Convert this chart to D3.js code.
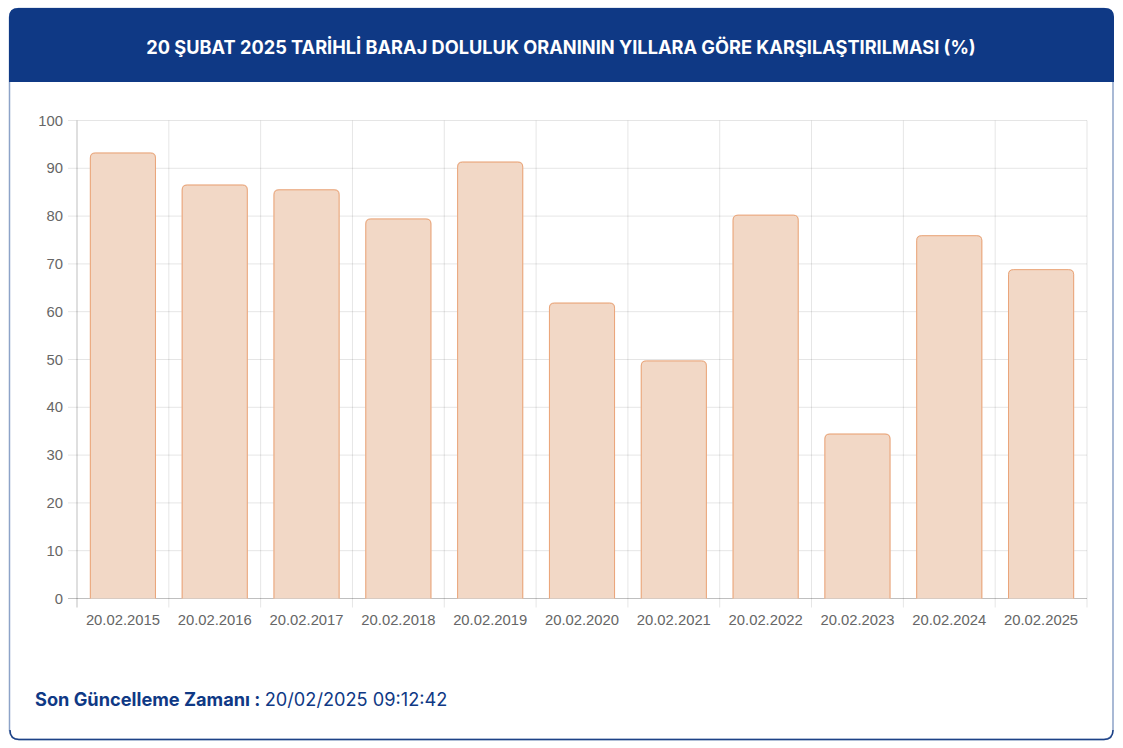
<!DOCTYPE html>
<html>
<head>
<meta charset="utf-8">
<script src="https://cdn.jsdelivr.net/npm/d3@7"></script>
<style>
  body { margin: 0; background: #fff; }
  svg text { font-family: "Liberation Sans", Arial, sans-serif; }
</style>
</head>
<body>
<svg id="chart" width="1123" height="748"></svg>
<script>
// Veriler: 20 Şubat tarihli baraj doluluk oranları (%)
const tarihler = ['20.02.2015', '20.02.2016', '20.02.2017', '20.02.2018', '20.02.2019',
  '20.02.2020', '20.02.2021', '20.02.2022', '20.02.2023', '20.02.2024', '20.02.2025'];
const oranlar = [93.3, 86.6, 85.6, 79.5, 91.4, 61.9, 49.8, 80.3, 34.5, 76.0, 68.9];
const yTikler = [0, 10, 20, 30, 40, 50, 60, 70, 80, 90, 100];

const baslik = '20 ŞUBAT 2025 TARİHLİ BARAJ DOLULUK ORANININ YILLARA GÖRE KARŞILAŞTIRILMASI (%)';
const guncelEtiket = 'Son Güncelleme Zamanı : ';
const guncelZaman = '20/02/2025 09:12:42';

const svg = d3.select('#chart');
const lacivert = '#0f3985';

// Kart: dış çerçeve
svg.append('rect')
  .attr('x', 9.5).attr('y', 8.5)
  .attr('width', 1103.5).attr('height', 731)
  .attr('rx', 9)
  .attr('fill', '#fff')
  .attr('stroke', '#8da3c8')
  .attr('stroke-width', 1.5);

// Alt kenar koyu mavi
svg.append('path')
  .attr('d', 'M 10 730 Q 10 739.5 19 739.5 L 1104 739.5 Q 1113 739.5 1113 730')
  .attr('fill', 'none')
  .attr('stroke', '#1d4287')
  .attr('stroke-width', 1.5);

// Başlık bandı
svg.append('path')
  .attr('d', 'M 9 82 L 9 17 Q 9 8 18 8 L 1105 8 Q 1114 8 1114 17 L 1114 82 Z')
  .attr('fill', lacivert);

svg.append('text')
  .attr('x', 561).attr('y', 53.5)
  .attr('text-anchor', 'middle')
  .attr('fill', '#fff')
  .style('font-family', 'Inter, "Noto Sans", sans-serif')
  .style('font-weight', 700)
  .style('font-size', '18.2px')
  .text(baslik);

// Grafik alanı
const margin = { left: 77, right: 1087, top: 120.5, bottom: 598.5 };

const x = d3.scaleBand()
  .domain(tarihler)
  .range([margin.left, margin.right]);

const y = d3.scaleLinear()
  .domain([0, 100])
  .range([margin.bottom, margin.top]);

const grid = svg.append('g');

// Yatay ızgara çizgileri (tik işaretleriyle birlikte)
grid.selectAll('.hgrid')
  .data(yTikler)
  .enter()
  .append('line')
  .attr('x1', margin.left - 9)
  .attr('x2', margin.right)
  .attr('y1', d => y(d))
  .attr('y2', d => y(d))
  .attr('stroke', d => d === 0 ? 'rgba(0,0,0,0.25)' : 'rgba(0,0,0,0.1)')
  .attr('stroke-width', 1);

// Dikey ızgara çizgileri (kategori sınırları)
const sinirlar = tarihler.map(d => x(d)).concat([margin.right]);
grid.selectAll('.vgrid')
  .data(sinirlar)
  .enter()
  .append('line')
  .attr('x1', d => d)
  .attr('x2', d => d)
  .attr('y1', margin.top)
  .attr('y2', margin.bottom + 9)
  .attr('stroke', (d, i) => i === 0 ? 'rgba(0,0,0,0.25)' : 'rgba(0,0,0,0.1)')
  .attr('stroke-width', 1);

// Y ekseni etiketleri
svg.append('g').selectAll('text')
  .data(yTikler)
  .enter()
  .append('text')
  .attr('x', 63)
  .attr('y', d => y(d) + 5)
  .attr('text-anchor', 'end')
  .attr('fill', '#666')
  .style('font-size', '14.8px')
  .text(d => d);

// X ekseni etiketleri
svg.append('g').selectAll('text')
  .data(tarihler)
  .enter()
  .append('text')
  .attr('x', d => x(d) + x.bandwidth() / 2)
  .attr('y', 625)
  .attr('text-anchor', 'middle')
  .attr('fill', '#666')
  .style('font-size', '14.8px')
  .text(d => d);

// Çubuklar: üst köşeleri yuvarlatılmış
const barW = x.bandwidth() * 0.72;
const r = 5;

function ustYuvarlak(x0, y0, w, h, kapali) {
  const rr = Math.min(r, h / 2);
  let p = `M ${x0} ${y0 + h} L ${x0} ${y0 + rr} Q ${x0} ${y0} ${x0 + rr} ${y0}`
    + ` L ${x0 + w - rr} ${y0} Q ${x0 + w} ${y0} ${x0 + w} ${y0 + rr} L ${x0 + w} ${y0 + h}`;
  if (kapali) p += ' Z';
  return p;
}

const cubuk = svg.append('g').selectAll('g')
  .data(oranlar)
  .enter()
  .append('g');

cubuk.append('path')
  .attr('d', (d, i) => {
    const x0 = x(tarihler[i]) + (x.bandwidth() - barW) / 2;
    return ustYuvarlak(x0, y(d), barW, y(0) - y(d), true);
  })
  .attr('fill', '#f2d8c6');

cubuk.append('path')
  .attr('d', (d, i) => {
    const x0 = x(tarihler[i]) + (x.bandwidth() - barW) / 2 + 0.5;
    return ustYuvarlak(x0, y(d) + 0.5, barW - 1, y(0) - y(d) - 0.5, false);
  })
  .attr('fill', 'none')
  .attr('stroke', '#eaa478')
  .attr('stroke-width', 1);

// Son güncelleme satırı
const alt = svg.append('text')
  .attr('x', 35).attr('y', 706)
  .attr('fill', lacivert)
  .style('font-family', 'Inter, "Noto Sans", sans-serif')
  .style('font-size', '18.2px');
alt.append('tspan').style('font-weight', 700).text(guncelEtiket);
alt.append('tspan').style('font-weight', 400).text(guncelZaman);
</script>
</body>
</html>
